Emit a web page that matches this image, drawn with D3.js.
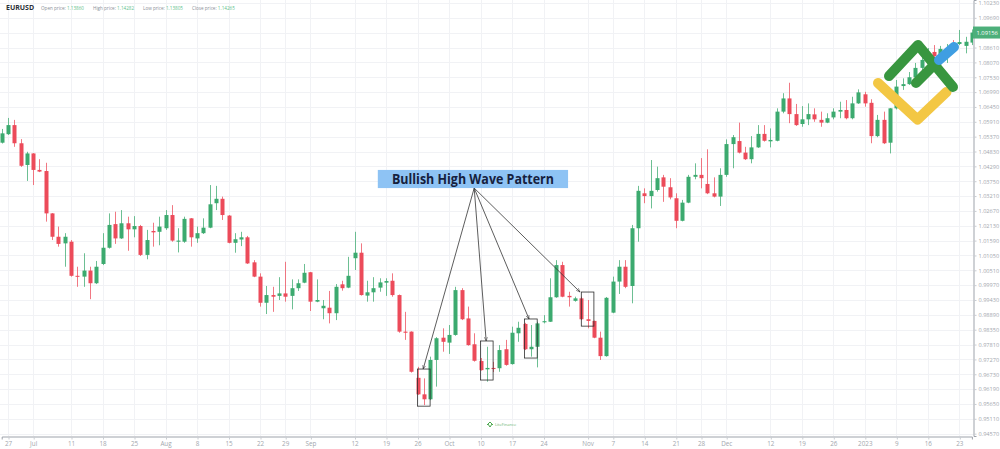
<!DOCTYPE html>
<html>
<head>
<meta charset="utf-8">
<script src="https://cdn.jsdelivr.net/npm/d3@7/dist/d3.min.js"></script>
<style>
html,body{margin:0;padding:0;background:#fff;}
svg{display:block;font-family:"Open Sans",sans-serif;}
</style>
</head>
<body>
<div class="chart"></div>
<script>
// EURUSD daily candles (index 0 = first visible candle)
var openP = [1.0515,1.0546,1.0579,1.0513,1.0434,1.0476,1.0416,1.0412,1.0258,1.0173,
  1.0149,1.0155,1.0031,1.0028,1.0050,1.0004,1.0074,1.0133,1.0219,1.0167,
  1.0222,1.0200,1.0212,1.0107,1.0194,1.0191,1.0204,1.0252,1.0155,1.0155,
  1.0240,1.0167,1.0186,1.0206,1.0295,1.0311,1.0250,1.0151,1.0163,1.0171,
  1.0080,1.0028,0.9933,0.9961,0.9958,0.9967,0.9958,0.9986,1.0006,1.0044,
  0.9937,0.9913,0.9915,0.9895,1.0000,0.9988,1.0095,1.0115,0.9959,0.9971,
  0.9988,1.0006,1.0013,0.9961,0.9828,0.9828,0.9660,0.9600,0.9582,0.9725,
  0.9806,0.9788,0.9816,0.9979,0.9876,0.9782,0.9721,0.9691,0.9696,0.9695,
  0.9764,0.9710,0.9822,0.9856,0.9764,0.9773,0.9862,0.9864,0.9953,1.0070,
  0.9958,0.9940,0.9949,0.9873,0.9867,0.9806,0.9739,0.9897,1.0010,1.0064,
  0.9994,1.0204,1.0331,1.0321,1.0343,1.0389,1.0353,1.0313,1.0231,1.0297,
  1.0391,1.0398,1.0365,1.0331,1.0319,1.0398,1.0510,1.0521,1.0479,1.0455,
  1.0498,1.0547,1.0520,1.0522,1.0628,1.0676,1.0619,1.0583,1.0600,1.0618,
  1.0598,1.0588,1.0607,1.0628,1.0634,1.0604,1.0658,1.0691,1.0660,1.0539,
  1.0598,1.0515,1.0640,1.0721,1.0728,1.0753,1.0787,1.0816,1.0845,1.0830,
  1.0845,1.0867,1.0874,1.0867,1.0879];
var highP = [1.0565,1.0605,1.0598,1.0528,1.0482,1.0477,1.0455,1.0442,1.0259,1.0210,
  1.0186,1.0161,1.0064,1.0113,1.0064,1.0085,1.0186,1.0258,1.0264,1.0270,
  1.0246,1.0248,1.0216,1.0198,1.0224,1.0246,1.0270,1.0288,1.0204,1.0246,
  1.0241,1.0210,1.0240,1.0361,1.0358,1.0319,1.0252,1.0186,1.0191,1.0176,
  1.0088,1.0040,0.9994,0.9991,1.0026,1.0082,1.0018,1.0018,1.0074,1.0045,
  1.0018,0.9943,0.9976,1.0001,1.0013,1.0100,1.0191,1.0149,1.0013,1.0026,
  1.0022,1.0022,1.0040,0.9963,0.9900,0.9829,0.9700,0.9658,0.9737,0.9808,
  0.9840,0.9852,0.9991,0.9986,0.9919,0.9822,0.9732,0.9773,0.9718,0.9779,
  0.9798,0.9846,0.9864,0.9860,0.9852,0.9864,0.9888,1.0022,1.0088,1.0082,
  0.9973,0.9955,0.9955,0.9943,0.9868,0.9828,0.9954,1.0028,1.0088,1.0088,
  1.0216,1.0358,1.0349,1.0452,1.0428,1.0398,1.0386,1.0331,1.0307,1.0398,
  1.0440,1.0459,1.0491,1.0389,1.0422,1.0527,1.0543,1.0588,1.0500,1.0539,
  1.0579,1.0579,1.0567,1.0640,1.0695,1.0733,1.0656,1.0648,1.0658,1.0640,
  1.0628,1.0622,1.0640,1.0664,1.0670,1.0682,1.0709,1.0700,1.0673,1.0616,
  1.0628,1.0641,1.0743,1.0749,1.0772,1.0805,1.0830,1.0859,1.0870,1.0867,
  1.0874,1.0888,1.0925,1.0900,1.0927];
var lowP = [1.0512,1.0543,1.0500,1.0427,1.0376,1.0361,1.0408,1.0228,1.0161,1.0137,
  1.0064,1.0028,0.9991,0.9991,0.9946,1.0001,1.0070,1.0130,1.0147,1.0165,
  1.0122,1.0171,1.0103,1.0091,1.0137,1.0142,1.0198,1.0155,1.0116,1.0151,
  1.0137,1.0151,1.0183,1.0204,1.0270,1.0234,1.0149,1.0115,1.0139,1.0074,
  1.0026,0.9919,0.9892,0.9900,0.9943,0.9937,0.9909,0.9976,1.0004,0.9903,
  0.9935,0.9873,0.9858,0.9870,0.9977,0.9986,1.0052,0.9959,0.9937,0.9937,
  0.9973,0.9958,0.9955,0.9824,0.9798,0.9679,0.9598,0.9561,0.9579,0.9628,
  0.9755,0.9747,0.9813,0.9870,0.9777,0.9719,0.9686,0.9646,0.9681,0.9682,
  0.9704,0.9708,0.9791,0.9761,0.9737,0.9698,0.9858,0.9863,0.9951,0.9953,
  0.9919,0.9937,0.9870,0.9840,0.9804,0.9725,0.9737,0.9895,0.9965,0.9986,
  0.9931,1.0155,1.0295,1.0276,1.0337,1.0300,1.0309,1.0204,1.0229,1.0295,
  1.0382,1.0349,1.0328,1.0316,1.0285,1.0391,1.0422,1.0476,1.0452,1.0440,
  1.0496,1.0519,1.0498,1.0520,1.0622,1.0586,1.0576,1.0573,1.0579,1.0591,
  1.0573,1.0586,1.0600,1.0604,1.0600,1.0600,1.0656,1.0646,1.0513,1.0535,
  1.0510,1.0476,1.0636,1.0707,1.0725,1.0747,1.0779,1.0808,1.0823,1.0816,
  1.0805,1.0841,1.0870,1.0840,1.0870];
var closeP = [1.0549,1.0579,1.0513,1.0431,1.0476,1.0416,1.0410,1.0258,1.0173,1.0147,
  1.0173,1.0031,1.0028,1.0050,1.0004,1.0064,1.0133,1.0216,1.0167,1.0222,
  1.0200,1.0212,1.0107,1.0161,1.0189,1.0210,1.0252,1.0159,1.0159,1.0238,
  1.0171,1.0186,1.0206,1.0291,1.0311,1.0252,1.0151,1.0164,1.0171,1.0076,
  1.0028,0.9933,0.9961,0.9955,0.9967,0.9955,0.9986,1.0004,1.0042,0.9937,
  0.9943,0.9922,0.9895,0.9991,0.9986,1.0031,1.0115,0.9961,0.9971,0.9986,
  1.0007,1.0012,0.9961,0.9828,0.9824,0.9682,0.9600,0.9582,0.9725,0.9804,
  0.9791,0.9816,0.9979,0.9873,0.9779,0.9722,0.9688,0.9696,0.9692,0.9761,
  0.9707,0.9824,0.9842,0.9764,0.9773,0.9858,0.9866,0.9953,1.0070,0.9955,
  0.9953,0.9949,0.9873,0.9867,0.9806,0.9739,0.9951,1.0010,1.0064,0.9991,
  1.0204,1.0340,1.0321,1.0340,1.0386,1.0355,1.0316,1.0231,1.0297,1.0391,
  1.0398,1.0386,1.0331,1.0319,1.0398,1.0510,1.0535,1.0479,1.0455,1.0498,
  1.0547,1.0522,1.0525,1.0628,1.0676,1.0619,1.0579,1.0600,1.0619,1.0600,
  1.0588,1.0604,1.0628,1.0634,1.0604,1.0658,1.0698,1.0658,1.0539,1.0598,
  1.0513,1.0640,1.0719,1.0728,1.0753,1.0787,1.0816,1.0841,1.0830,1.0856,
  1.0859,1.0852,1.0881,1.0882,1.09156];

// axis ticks
var dateTickIdx = [1,5,11,16,21,26,31,36,41,45,49,56,61,66,71,76,81,86,93,97,102,107,111,115,122,127,132,137,142,147,152];
var dateTickLabels = ['27','Jul','11','18','25','Aug','8','15','22','29','Sep','12','19','26','Oct','10','17','24','Nov','7','14','21','28','Dec','12','19','26','2023','9','16','23'];
var priceTicks = [1.10230,1.09690,1.09150,1.08610,1.08070,1.07530,1.06990,1.06450,1.05910,1.05370,
  1.04830,1.04290,1.03750,1.03210,1.02670,1.02130,1.01590,1.01050,1.00510,0.99970,
  0.99430,0.98890,0.98350,0.97810,0.97270,0.96730,0.96190,0.95650,0.95110,0.94570];
var lastPrice = 1.09156;

// pattern boxes: [first candle, last candle, top price, bottom price]
var patternBoxes = [[66,68,0.9692,0.9557],[76,78,0.9794,0.9652],[83,85,0.9874,0.9732],[92,94,0.9972,0.9848]];
var arrowTargetIdx = [66.9,76.9,83.7,91.8];
var labelText = 'Bullish High Wave Pattern';
var labelIdx = [59.7, 89.9], labelPrice = [1.0416, 1.0350], labelOriginIdx = 75;

var green = '#3caa6f', red = '#ec4b5a';
var width = 1000, height = 449, plotRight = 973, plotBottom = 436;

var svg = d3.select('.chart').append('svg')
  .attr('width', width).attr('height', height)
  .style('background', '#fff');

var x = d3.scaleLinear().domain([0, 154]).range([1.7, 971.9]);
var y = d3.scaleLinear().domain([0.94485, 1.10339]).range([plotBottom, 0]);

// grid
svg.append('g').selectAll('line').data(dateTickIdx).enter().append('line')
  .attr('x1', function(d){ return Math.round(x(d)) + 0.5; })
  .attr('x2', function(d){ return Math.round(x(d)) + 0.5; })
  .attr('y1', 0).attr('y2', plotBottom)
  .attr('stroke', '#f1f2f5');
svg.append('g').selectAll('line').data(priceTicks).enter().append('line')
  .attr('x1', 0).attr('x2', plotRight)
  .attr('y1', function(d){ return Math.round(y(d)) + 0.5; })
  .attr('y2', function(d){ return Math.round(y(d)) + 0.5; })
  .attr('stroke', '#f1f2f5');

// candles
svg.append('clipPath').attr('id', 'plot').append('rect')
  .attr('x', 0).attr('y', 0).attr('width', plotRight).attr('height', plotBottom);
var candles = svg.append('g').attr('clip-path', 'url(#plot)');
var idx = d3.range(openP.length);
candles.selectAll('line').data(idx).enter().append('line')
  .attr('x1', function(i){ return Math.round(x(i)) + 0.5; })
  .attr('x2', function(i){ return Math.round(x(i)) + 0.5; })
  .attr('y1', function(i){ return y(highP[i]); })
  .attr('y2', function(i){ return y(lowP[i]); })
  .attr('stroke', function(i){ return closeP[i] >= openP[i] ? green : red; })
  .attr('stroke-opacity', 0.75);
candles.selectAll('rect').data(idx).enter().append('rect')
  .attr('x', function(i){ return Math.round(x(i)) - 1.5; })
  .attr('width', 4)
  .attr('y', function(i){ return y(Math.max(openP[i], closeP[i])); })
  .attr('height', function(i){ return Math.max(1, Math.abs(y(openP[i]) - y(closeP[i]))); })
  .attr('fill', function(i){ return closeP[i] >= openP[i] ? green : red; });

// axes
var yAxis = svg.append('g').attr('transform', 'translate(' + (plotRight + 0.5) + ',0)')
  .call(d3.axisRight(y).tickValues(priceTicks).tickFormat(d3.format('.5f')).tickSize(3).tickPadding(2));
var xAxis = svg.append('g').attr('transform', 'translate(0,' + (plotBottom + 0.5) + ')')
  .call(d3.axisBottom(x).tickValues(dateTickIdx).tickFormat(function(d, i){ return dateTickLabels[i]; }).tickSize(3).tickPadding(2));
[yAxis, xAxis].forEach(function(a){
  a.select('.domain').attr('stroke', '#9ea3ab');
  a.selectAll('.tick line').attr('stroke', '#c9ccd1');
  a.selectAll('text').attr('fill', '#a3a7ae').style('font-family', 'Open Sans');
});
yAxis.selectAll('text').style('font-size', '5.6px');
xAxis.selectAll('text').style('font-size', '6.3px');
xAxis.selectAll('.tick line').attr('transform', 'translate(0.5,0)');

// last price marker
var lp = svg.append('g');
lp.append('rect').attr('x', plotRight).attr('y', y(lastPrice) - 6).attr('width', 27).attr('height', 12).attr('fill', '#4caf7a');
lp.append('text').attr('x', plotRight + 3.5).attr('y', y(lastPrice) + 2).attr('fill', '#fff')
  .style('font-size', '5.8px').text(lastPrice.toFixed(5));

// header
var hdr = svg.append('g');
hdr.append('text').attr('x', 6).attr('y', 10).attr('fill', '#2b2f36')
  .style('font-size', '7px').style('font-weight', 700).text('EURUSD');
var hdrItems = [['Open price:', '1.13860', 41], ['High price:', '1.14282', 93], ['Low price:', '1.13805', 143], ['Close price:', '1.14265', 192]];
hdrItems.forEach(function(h){
  var t = hdr.append('text').attr('x', h[2]).attr('y', 9.5).style('font-size', '4.6px');
  t.append('tspan').attr('fill', '#8a8f98').text(h[0] + ' ');
  t.append('tspan').attr('fill', '#5fbf8c').text(h[1]);
});

// annotation
var ann = svg.append('g');
patternBoxes.forEach(function(b){
  ann.append('rect')
    .attr('x', x(b[0])).attr('y', y(b[2]))
    .attr('width', x(b[1]) - x(b[0])).attr('height', y(b[3]) - y(b[2]))
    .attr('fill', 'none').attr('stroke', '#2d2d2d').attr('stroke-width', 0.8);
});
svg.append('defs').append('marker').attr('id', 'arr')
  .attr('viewBox', '0 0 10 10').attr('refX', 10).attr('refY', 5)
  .attr('markerWidth', 5).attr('markerHeight', 5).attr('orient', 'auto')
  .append('path').attr('d', 'M0,1 L10,5 L0,9').attr('fill', 'none').attr('stroke', '#2d2d2d').attr('stroke-width', 1.2);
arrowTargetIdx.forEach(function(t, k){
  ann.append('line')
    .attr('x1', x(labelOriginIdx)).attr('y1', y(labelPrice[1]))
    .attr('x2', x(t)).attr('y2', y(patternBoxes[k][2]))
    .attr('stroke', '#333').attr('stroke-width', 0.8)
    .attr('marker-end', 'url(#arr)');
});
ann.append('rect')
  .attr('x', x(labelIdx[0])).attr('y', y(labelPrice[0]))
  .attr('width', x(labelIdx[1]) - x(labelIdx[0])).attr('height', y(labelPrice[1]) - y(labelPrice[0]))
  .attr('fill', '#8ec3f4');
ann.append('text')
  .attr('x', (x(labelIdx[0]) + x(labelIdx[1])) / 2)
  .attr('y', (y(labelPrice[0]) + y(labelPrice[1])) / 2 + 4.8)
  .attr('text-anchor', 'middle').attr('fill', '#16213e')
  .attr('textLength', 162).attr('lengthAdjust', 'spacingAndGlyphs')
  .style('font-size', '14px').style('font-weight', 700).text(labelText);

// logo
var logo = svg.append('g').attr('fill', 'none').attr('stroke-linecap', 'round').attr('stroke-linejoin', 'round').attr('stroke-width', 10);
logo.append('path').attr('d', 'M878,83 L917.5,119.5 L946.5,92').attr('stroke', '#f3c744');
logo.append('path').attr('d', 'M889,76 L918,45 L953,87').attr('stroke', '#38963f');
logo.append('path').attr('d', 'M916,83 L937,62').attr('stroke', '#38963f');
logo.append('path').attr('d', 'M939,60 L954,47').attr('stroke', '#3f9ee2');

// watermark
var wm = svg.append('g');
wm.append('path').attr('d', 'M487,425 L490,422 L493,425 M488,424 L490,427 L492,424')
  .attr('fill', 'none').attr('stroke', '#48a84b').attr('stroke-width', 1);
wm.append('text').attr('x', 495).attr('y', 426).attr('fill', '#6bb36e')
  .style('font-size', '4px').text('LiteFinance');
</script>
</body>
</html>
